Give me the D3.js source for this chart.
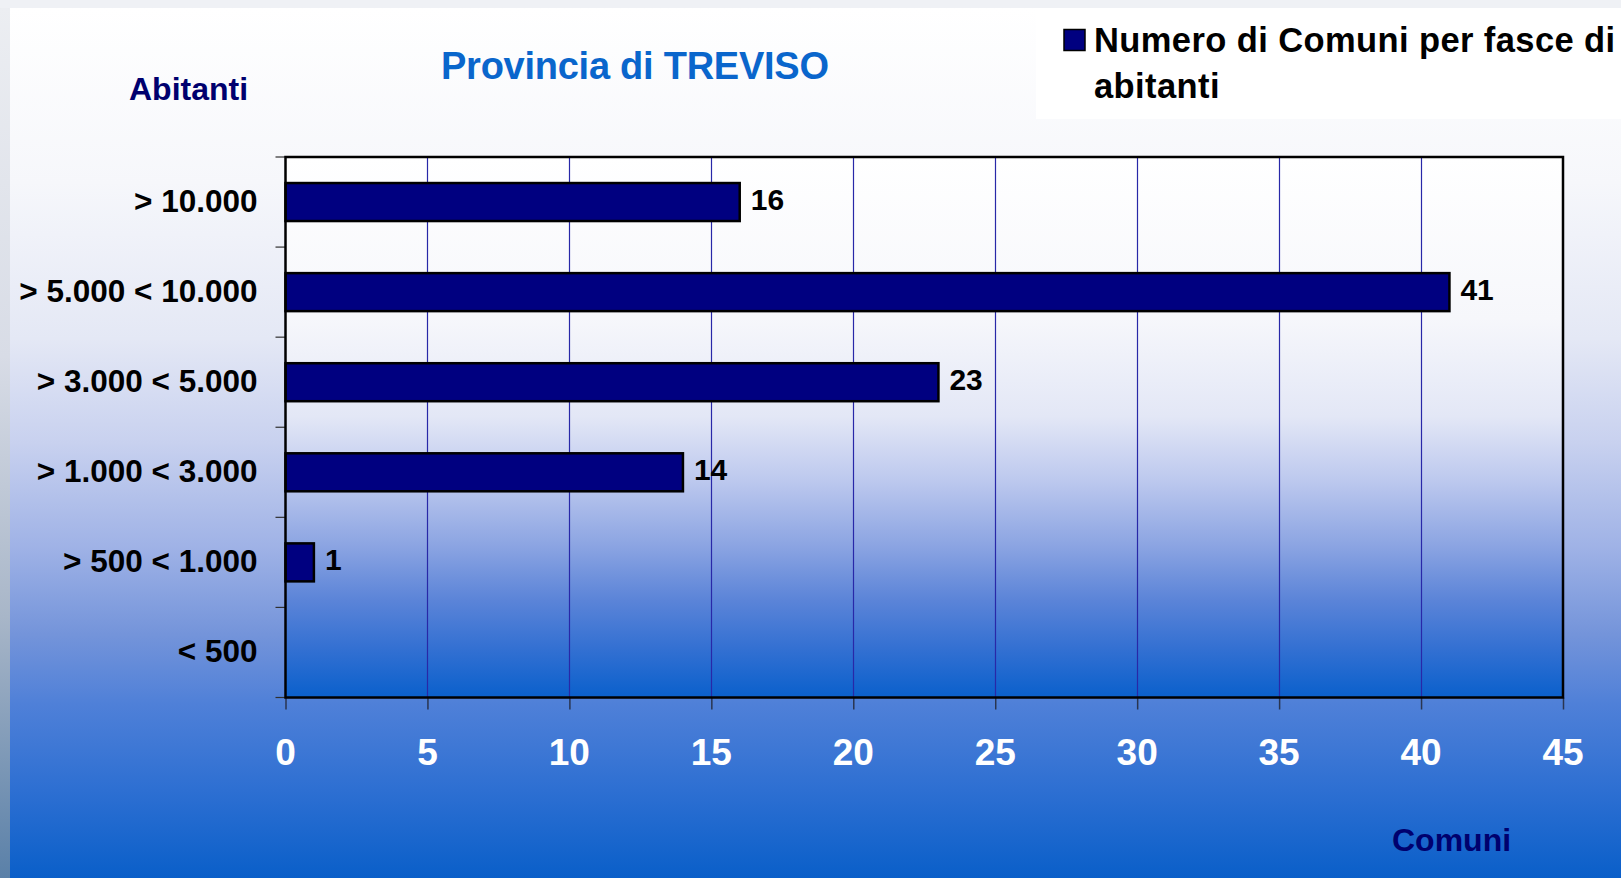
<!DOCTYPE html>
<html>
<head>
<meta charset="utf-8">
<script src="https://cdn.jsdelivr.net/npm/d3@7"></script>
<style>
  html, body { margin: 0; padding: 0; background: #eff1f5; }
  svg { display: block; }
  text { font-family: "Liberation Sans", Arial, Helvetica, sans-serif; font-weight: bold; }
</style>
</head>
<body>
<svg id="chart" width="1621" height="878"></svg>
<script>
const categories = ["> 10.000", "> 5.000 < 10.000", "> 3.000 < 5.000", "> 1.000 < 3.000", "> 500 < 1.000", "< 500"];
const values = [16, 41, 23, 14, 1, null];
const xTicks = [0, 5, 10, 15, 20, 25, 30, 35, 40, 45];
const seriesName = ["Numero di Comuni per fasce di", "abitanti"];
const titleText = "Provincia di TREVISO";
const yTitle = "Abitanti";
const xTitle = "Comuni";

const W = 1621, H = 878;
const svg = d3.select("#chart");
const defs = svg.append("defs");

function grad(id, stops) {
  const g = defs.append("linearGradient").attr("id", id)
    .attr("x1", 0).attr("y1", 0).attr("x2", 0).attr("y2", 1);
  stops.forEach(s => g.append("stop").attr("offset", s[0]).attr("stop-color", s[1]));
}
grad("pageGrad", [[0, "#ffffff"], [0.2, "#f6f7fb"], [0.38, "#e4e8f5"], [0.5, "#c8d1ef"], [0.62, "#9fb2e6"], [0.72, "#7494da"], [0.8, "#4f80d8"], [0.9, "#2d6fd2"], [1, "#0a5fc9"]]);
grad("plotGrad", [[0, "#ffffff"], [0.3, "#f6f7fb"], [0.48, "#e3e7f6"], [0.6, "#bcc8ee"], [0.72, "#8ba4e2"], [0.82, "#5b84d8"], [0.91, "#3370d2"], [1, "#0a60cc"]]);
grad("stripGrad", [[0, "#eceef2"], [0.4, "#d8dce6"], [0.7, "#a8b6c8"], [1, "#5a80a8"]]);

// background
svg.append("rect").attr("x", 0).attr("y", 0).attr("width", W).attr("height", H).attr("fill", "#eff1f5");
svg.append("rect").attr("x", 0).attr("y", 8).attr("width", 10).attr("height", H - 8).attr("fill", "url(#stripGrad)");
svg.append("rect").attr("x", 10).attr("y", 8).attr("width", W - 10).attr("height", H - 8).attr("fill", "url(#pageGrad)");

const m = { left: 285.5, right: 1563, top: 157, bottom: 697.5 };

const x = d3.scaleLinear().domain([0, 45]).range([m.left, m.right]);
const y = d3.scaleBand().domain(categories).range([m.top, m.bottom]).padding(0);

// plot area
svg.append("rect").attr("x", m.left).attr("y", m.top)
  .attr("width", m.right - m.left).attr("height", m.bottom - m.top)
  .attr("fill", "url(#plotGrad)");

// gridlines
svg.append("g").selectAll("line").data(xTicks.filter(t => t > 0 && t < 45)).join("line")
  .attr("x1", d => Math.round(x(d)) + 0.5).attr("x2", d => Math.round(x(d)) + 0.5)
  .attr("y1", m.top).attr("y2", m.bottom)
  .attr("stroke", "#2828a8").attr("stroke-width", 1.2);

// x axis ticks
const xAxis = d3.axisBottom(x).tickValues(xTicks).tickSize(12).tickFormat("");
const gx = svg.append("g").attr("transform", `translate(0,${m.bottom})`).call(xAxis);
gx.select(".domain").remove();
gx.selectAll(".tick line").attr("stroke", "#2a3550").attr("stroke-width", 1.5);

// x tick labels
svg.append("g").selectAll("text").data(xTicks).join("text")
  .attr("x", d => x(d)).attr("y", 764.5)
  .attr("text-anchor", "middle").attr("fill", "#ffffff")
  .attr("font-size", 37).text(d => d);

// y axis ticks at band boundaries
const yBounds = categories.map(c => y(c)).concat([m.bottom]);
svg.append("g").selectAll("line").data(yBounds).join("line")
  .attr("x1", m.left - 10).attr("x2", m.left)
  .attr("y1", d => d).attr("y2", d => d)
  .attr("stroke", "#303030").attr("stroke-width", 1.2);

// y labels
svg.append("g").selectAll("text").data(categories).join("text")
  .attr("x", 257.5).attr("y", d => y(d) + y.bandwidth() / 2 + 9.5)
  .attr("text-anchor", "end").attr("fill", "#000000")
  .attr("font-size", 31.5).text(d => d);

// bars
const barH = 38;
const data = categories.map((c, i) => ({ c, v: values[i] })).filter(d => d.v !== null && d.v > 0);
svg.append("g").selectAll("rect").data(data).join("rect")
  .attr("x", x(0)).attr("y", d => y(d.c) + (y.bandwidth() - barH) / 2)
  .attr("width", d => x(d.v) - x(0)).attr("height", barH)
  .attr("fill", "#000080").attr("stroke", "#000000").attr("stroke-width", 2.5);

// value labels
svg.append("g").selectAll("text").data(data).join("text")
  .attr("x", d => x(d.v) + 11).attr("y", d => y(d.c) + y.bandwidth() / 2 + 8)
  .attr("fill", "#000000").attr("font-size", 30).text(d => d.v);

// frame
svg.append("rect").attr("x", m.left).attr("y", m.top)
  .attr("width", m.right - m.left).attr("height", m.bottom - m.top)
  .attr("fill", "none").attr("stroke", "#000000").attr("stroke-width", 2.5);

// title
svg.append("text").attr("x", 635).attr("y", 78.5).attr("text-anchor", "middle")
  .attr("fill", "#0a66cc").attr("font-size", 38).attr("textLength", 388)
  .text(titleText);

// axis titles
svg.append("text").attr("x", 129).attr("y", 99.5).attr("fill", "#00006e")
  .attr("font-size", 32).text(yTitle);
svg.append("text").attr("x", 1392).attr("y", 850.5).attr("fill", "#00006e")
  .attr("font-size", 32).text(xTitle);

// legend
svg.append("rect").attr("x", 1036).attr("y", 8).attr("width", W - 1036).attr("height", 111).attr("fill", "#ffffff");
svg.append("rect").attr("x", 1064).attr("y", 29.5).attr("width", 21).attr("height", 21)
  .attr("fill", "#000080").attr("stroke", "#000000").attr("stroke-width", 1.5);
svg.append("text").attr("x", 1094).attr("y", 51.5).attr("fill", "#000000")
  .attr("font-size", 34.5).attr("letter-spacing", 0.4).text(seriesName[0]);
svg.append("text").attr("x", 1094).attr("y", 97.5).attr("fill", "#000000")
  .attr("font-size", 34.5).attr("letter-spacing", 0.4).text(seriesName[1]);
</script>
</body>
</html>
